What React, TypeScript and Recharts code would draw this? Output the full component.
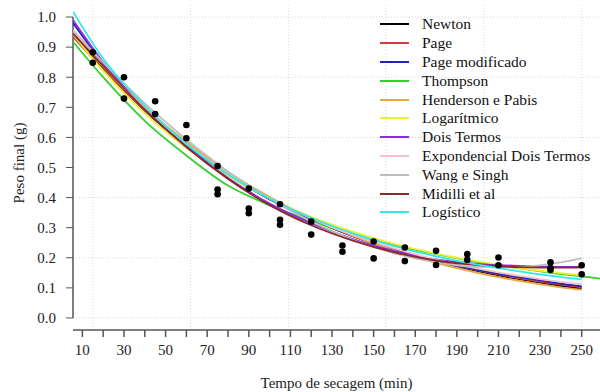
import { ComposedChart, Line, Scatter, XAxis, YAxis, ReferenceLine, Label } from 'recharts'

// drying time (min) where the fitted curves are sampled
const fitTimes = [5.5, 20, 40, 60, 80, 100, 120, 140, 160, 180, 200, 220, 240, 250]
const thompsonTimes = [5.5, 20, 40, 60, 80, 100, 120, 140, 160, 180, 200, 220, 240, 250, 258.8]

// fitted curves
const newton = [0.950, 0.830, 0.689, 0.572, 0.475, 0.395, 0.328, 0.272, 0.226, 0.188, 0.156, 0.129, 0.107, 0.098]
const page = [0.935, 0.825, 0.690, 0.575, 0.478, 0.397, 0.329, 0.273, 0.227, 0.189, 0.158, 0.132, 0.111, 0.102]
const pageMod = [0.980, 0.845, 0.695, 0.574, 0.476, 0.395, 0.328, 0.272, 0.226, 0.188, 0.160, 0.136, 0.114, 0.105]
const thompson = [0.918, 0.800, 0.655, 0.540, 0.440, 0.375, 0.322, 0.278, 0.242, 0.212, 0.186, 0.165, 0.146, 0.138, 0.131]
const henderson = [0.950, 0.835, 0.700, 0.585, 0.485, 0.402, 0.332, 0.273, 0.224, 0.183, 0.150, 0.123, 0.102, 0.094]
const logaritmico = [0.943, 0.821, 0.679, 0.565, 0.472, 0.397, 0.336, 0.287, 0.246, 0.214, 0.188, 0.166, 0.149, 0.142]
const doisTermos = [0.990, 0.850, 0.695, 0.570, 0.465, 0.380, 0.315, 0.262, 0.222, 0.195, 0.180, 0.173, 0.170, 0.170]
const expDoisTermos = [0.955, 0.838, 0.697, 0.578, 0.479, 0.398, 0.331, 0.276, 0.231, 0.194, 0.164, 0.140, 0.120, 0.112]
const wangSingh = [0.957, 0.849, 0.713, 0.593, 0.487, 0.396, 0.321, 0.260, 0.215, 0.185, 0.170, 0.170, 0.185, 0.198]
const midilli = [0.945, 0.838, 0.693, 0.568, 0.462, 0.375, 0.308, 0.257, 0.218, 0.191, 0.176, 0.169, 0.167, 0.168]
const logistico = [1.018, 0.862, 0.705, 0.578, 0.477, 0.397, 0.333, 0.281, 0.239, 0.205, 0.177, 0.155, 0.136, 0.128]

// observed weights
const obsTimes = [15, 15, 30, 30, 45, 45, 60, 60, 75, 75, 75, 90, 90, 90, 105, 105, 105, 120, 120, 135, 135,
  150, 150, 165, 165, 180, 180, 195, 195, 210, 210, 235, 235, 235, 250, 250]
const obsWeights = [0.883, 0.848, 0.800, 0.729, 0.720, 0.678, 0.641, 0.597, 0.505, 0.427, 0.411, 0.430, 0.364, 0.348,
  0.378, 0.326, 0.310, 0.320, 0.277, 0.241, 0.220, 0.254, 0.198, 0.234, 0.189, 0.223, 0.176, 0.212, 0.193,
  0.201, 0.175, 0.185, 0.166, 0.159, 0.175, 0.145]

const xTicks = [10, 20, 30, 40, 50, 60, 70, 80, 90, 100, 110, 120, 130, 140, 150, 160, 170, 180, 190, 200, 210, 220, 230, 240, 250]
const xLabels = [10, 30, 50, 70, 90, 110, 130, 150, 170, 190, 210, 230, 250]
const yTicks = [0, 0.1, 0.2, 0.3, 0.4, 0.5, 0.6, 0.7, 0.8, 0.9, 1.0]
const gridX = [15, 62, 109, 156, 203, 250]
const gridY = [0, 0.2, 0.4, 0.6, 0.8, 1.0]

const models = [
  { name: 'Newton', color: '#000000', times: fitTimes, values: newton },
  { name: 'Page', color: '#C84040', times: fitTimes, values: page },
  { name: 'Page modificado', color: '#2020C0', times: fitTimes, values: pageMod },
  { name: 'Thompson', color: '#30D030', times: thompsonTimes, values: thompson },
  { name: 'Henderson e Pabis', color: '#E8A840', times: fitTimes, values: henderson },
  { name: 'Logarítmico', color: '#F0F030', times: fitTimes, values: logaritmico },
  { name: 'Dois Termos', color: '#8B2BE2', times: fitTimes, values: doisTermos },
  { name: 'Expondencial Dois Termos', color: '#F5C0CB', times: fitTimes, values: expDoisTermos },
  { name: 'Wang e Singh', color: '#BEBEBE', times: fitTimes, values: wangSingh },
  { name: 'Midilli et al', color: '#8B2A2A', times: fitTimes, values: midilli },
  { name: 'Logístico', color: '#30E8E8', times: fitTimes, values: logistico },
]

const FONT = "'Liberation Serif', 'Times New Roman', serif"

const toRows = (xs: number[], ys: number[]) => xs.map((t, i) => ({ t, v: ys[i] }))

export default function App() {
  const obsRows = toRows(obsTimes, obsWeights)

  return (
    <div style={{ position: 'absolute', left: 0, top: 0, width: 600, height: 392, background: '#fff', fontFamily: FONT }}>
      <ComposedChart width={600} height={392} margin={{ top: 5, right: 0, bottom: 0, left: 0 }}>
        <XAxis
          type="number"
          dataKey="t"
          domain={[5.5, 258.8]}
          allowDataOverflow
          ticks={xTicks}
          interval={0}
          tickFormatter={(v: number) => (xLabels.includes(v) ? String(v) : '')}
          height={62}
          tickSize={7}
          tickMargin={7}
          stroke="#555"
          strokeWidth={1.5}
          tick={{ fill: '#222', fontSize: 15, fontFamily: FONT }}
        >
          <Label value="Tempo de secagem (min)" position="insideBottom" offset={4} fill="#222" fontSize={15} fontFamily={FONT} />
        </XAxis>
        <YAxis
          type="number"
          domain={[-0.04, 1.04]}
          allowDataOverflow
          ticks={yTicks}
          interval={0}
          tickFormatter={(v: number) => v.toFixed(1)}
          width={73}
          tickSize={7}
          tickMargin={10}
          axisLine={false}
          stroke="#555"
          tick={{ fill: '#222', fontSize: 15, fontFamily: FONT }}
        >
          <Label
            content={(props: any) => {
              const vb = props.viewBox || { x: 0, y: 5, height: 325 }
              const cx = vb.x + 24
              const cy = 163
              return (
                <text x={cx} y={cy} transform={`rotate(-90 ${cx} ${cy})`} textAnchor="middle" fill="#222" fontSize={15} fontFamily={FONT}>
                  Peso final (g)
                </text>
              )
            }}
          />
        </YAxis>

        {gridX.map((x) => (
          <ReferenceLine key={'gx' + x} x={x} stroke="#D8D8D8" strokeDasharray="1 2" />
        ))}
        {gridY.map((y) => (
          <ReferenceLine key={'gy' + y} y={y} stroke="#D8D8D8" strokeDasharray="1 2" />
        ))}
        <ReferenceLine segment={[{ x: 5.5, y: 0 }, { x: 5.5, y: 1 }]} stroke="#555" strokeWidth={1.5} ifOverflow="visible" />

        <Scatter
          data={obsRows}
          dataKey="v"
          isAnimationActive={false}
          legendType="none"
          shape={(p: any) => <circle cx={p.cx} cy={p.cy} r={3.3} fill="#000" />}
        />

        {models.map((m) => (
          <Line
            key={m.name}
            name={m.name}
            data={toRows(m.times, m.values)}
            dataKey="v"
            type="monotone"
            stroke={m.color}
            strokeWidth={1.8}
            dot={false}
            activeDot={false}
            isAnimationActive={false}
          />
        ))}
      </ComposedChart>

      <div style={{ position: 'absolute', left: 380, top: 15, fontSize: 15.5, color: '#111' }}>
        {models.map((m) => (
          <div key={m.name} style={{ display: 'flex', alignItems: 'center', height: 18.8, whiteSpace: 'nowrap' }}>
            <span style={{ display: 'inline-block', width: 29, height: 2, background: m.color, marginRight: 13 }} />
            <span>{m.name}</span>
          </div>
        ))}
      </div>
    </div>
  )
}
